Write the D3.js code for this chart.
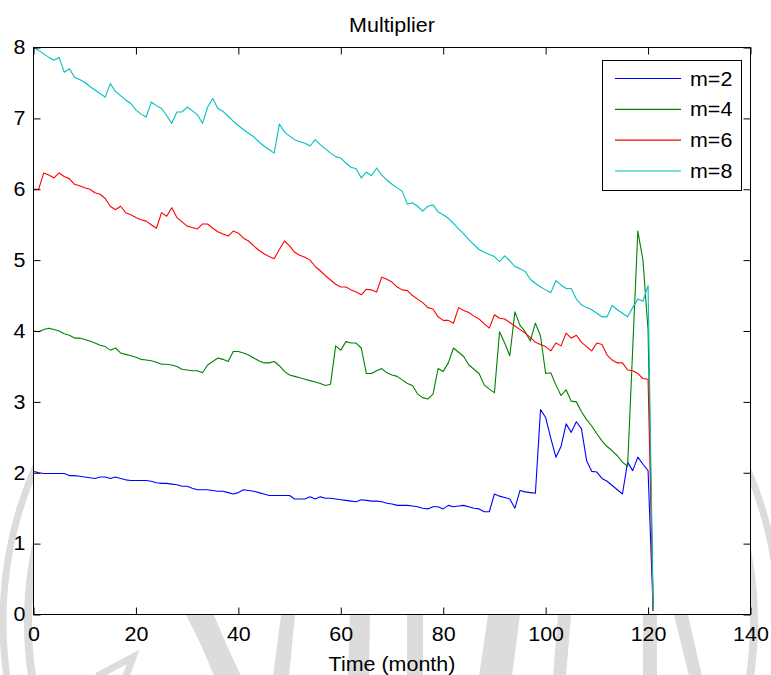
<!DOCTYPE html>
<html>
<head>
<meta charset="utf-8">
<script src="https://cdn.jsdelivr.net/npm/d3@7"></script>
<style>
  body { margin: 0; background: #fff; }
  text { font-family: "Liberation Sans", Arial, Helvetica, sans-serif; fill: #000; }
</style>
</head>
<body>
<svg id="chart" width="771" height="675"></svg>
<script>
// Monthly multiplier values, months 0..121
const months = d3.range(0, 122);

const m2 = [
  2.02,2.00,1.99,1.99,1.99,1.99,1.99,1.96,1.96,1.95,
  1.94,1.93,1.92,1.94,1.94,1.92,1.94,1.92,1.90,1.89,
  1.89,1.89,1.89,1.88,1.86,1.85,1.85,1.84,1.83,1.81,
  1.81,1.78,1.76,1.76,1.76,1.75,1.74,1.74,1.72,1.70,
  1.72,1.76,1.75,1.74,1.72,1.70,1.68,1.68,1.68,1.68,
  1.68,1.63,1.63,1.63,1.66,1.63,1.66,1.64,1.64,1.63,
  1.62,1.61,1.60,1.59,1.62,1.61,1.60,1.60,1.59,1.57,
  1.56,1.54,1.54,1.54,1.53,1.52,1.50,1.49,1.52,1.52,
  1.49,1.54,1.52,1.53,1.54,1.52,1.50,1.49,1.45,1.45,
  1.70,1.67,1.65,1.63,1.50,1.75,1.73,1.72,1.71,2.89,
  2.78,2.49,2.22,2.37,2.69,2.57,2.72,2.62,2.17,2.02,
  2.01,1.92,1.88,1.82,1.76,1.70,2.15,2.03,2.22,2.12,
  2.03,0.05
];

const m4 = [
  4.00,3.99,4.02,4.04,4.02,4.00,3.96,3.94,3.90,3.90,
  3.88,3.86,3.83,3.80,3.78,3.73,3.76,3.69,3.67,3.65,
  3.63,3.60,3.59,3.58,3.56,3.53,3.53,3.52,3.50,3.46,
  3.45,3.44,3.44,3.41,3.52,3.57,3.62,3.60,3.57,3.71,
  3.71,3.69,3.66,3.62,3.58,3.55,3.55,3.57,3.51,3.43,
  3.38,3.36,3.34,3.32,3.30,3.28,3.26,3.23,3.25,3.79,
  3.73,3.85,3.83,3.83,3.76,3.40,3.40,3.44,3.47,3.41,
  3.38,3.36,3.31,3.26,3.23,3.11,3.06,3.04,3.11,3.47,
  3.43,3.55,3.76,3.70,3.64,3.52,3.46,3.40,3.24,3.18,
  3.13,3.99,3.83,3.65,4.27,4.08,3.99,3.86,4.11,3.93,
  3.40,3.41,3.24,3.09,3.17,3.01,3.00,2.86,2.75,2.66,
  2.55,2.45,2.37,2.31,2.24,2.15,2.09,3.75,5.41,5.00,
  4.01,0.05
];

const m6 = [
  6.00,6.00,6.23,6.20,6.16,6.23,6.18,6.15,6.07,6.05,
  6.02,6.00,5.95,5.93,5.87,5.76,5.71,5.76,5.67,5.64,
  5.60,5.57,5.55,5.50,5.45,5.67,5.62,5.74,5.60,5.54,
  5.48,5.46,5.44,5.51,5.51,5.45,5.40,5.37,5.34,5.41,
  5.38,5.31,5.27,5.20,5.14,5.09,5.05,5.02,5.15,5.27,
  5.20,5.11,5.07,5.04,5.00,4.91,4.85,4.78,4.72,4.66,
  4.62,4.62,4.58,4.55,4.51,4.59,4.58,4.55,4.76,4.73,
  4.69,4.62,4.58,4.57,4.50,4.45,4.40,4.33,4.31,4.20,
  4.15,4.15,4.11,4.33,4.29,4.26,4.21,4.17,4.10,4.04,
  4.23,4.18,4.17,4.12,4.07,4.02,3.97,3.91,3.84,3.81,
  3.78,3.72,3.83,3.79,3.97,3.90,3.94,3.84,3.78,3.72,
  3.83,3.81,3.66,3.59,3.55,3.55,3.45,3.44,3.40,3.33,
  3.32,0.05
];

const m8 = [
  8.00,7.96,7.91,7.86,7.82,7.86,7.65,7.70,7.58,7.55,
  7.51,7.45,7.40,7.35,7.30,7.49,7.38,7.32,7.26,7.21,
  7.12,7.06,7.02,7.23,7.18,7.14,7.04,6.93,7.09,7.09,
  7.16,7.11,7.05,6.93,7.16,7.28,7.14,7.10,7.03,6.96,
  6.90,6.84,6.79,6.74,6.67,6.61,6.56,6.51,6.92,6.81,
  6.75,6.70,6.67,6.65,6.61,6.70,6.63,6.57,6.51,6.46,
  6.44,6.37,6.31,6.29,6.16,6.24,6.19,6.30,6.20,6.13,
  6.07,6.02,5.97,5.79,5.81,5.76,5.69,5.76,5.78,5.68,
  5.64,5.59,5.52,5.44,5.37,5.29,5.22,5.15,5.11,5.08,
  5.05,4.98,5.06,4.99,4.91,4.88,4.84,4.73,4.67,4.62,
  4.58,4.54,4.71,4.65,4.60,4.60,4.45,4.37,4.33,4.30,
  4.25,4.20,4.20,4.36,4.30,4.25,4.20,4.33,4.45,4.42,
  4.64,0.05
];

const seriesNames = ["m=2", "m=4", "m=6", "m=8"];
const seriesColors = ["#0000ff", "#008000", "#ff0000", "#00bfbf"];
const xTicks = [0, 20, 40, 60, 80, 100, 120, 140];
const yTicks = [0, 1, 2, 3, 4, 5, 6, 7, 8];
const titleText = "Multiplier";
const xLabelText = "Time (month)";

const series = [m2, m4, m6, m8].map((vals, i) => ({
  name: seriesNames[i],
  color: seriesColors[i],
  points: months.map((t, j) => ({ t, v: vals[j] }))
}));

const svg = d3.select("#chart");
const box = { left: 33.5, right: 750.5, top: 47.5, bottom: 614.5 };
const FS = 19.5;
const WIDEN = 1.1; // glyphs in this figure are set slightly wide

const x = d3.scaleLinear().domain([0, 140]).range([box.left, box.right]);
const y = d3.scaleLinear().domain([0, 8]).range([box.bottom, box.top]);

// faint background emblem (only visible outside the axes box)
const emblem = svg.append("g").attr("fill", "#dcdcdc").attr("stroke", "#dcdcdc");
emblem.append("circle").attr("cx", 391).attr("cy", 622).attr("r", 388)
  .attr("fill", "none").attr("stroke-width", 7);
emblem.append("circle").attr("cx", 391).attr("cy", 622).attr("r", 363)
  .attr("fill", "none").attr("stroke-width", 8);
emblem.append("polyline").attr("points", "97,676 133,657 126,676")
  .attr("fill", "none").attr("stroke-width", 7);
const emblemShapes = [
  "M186,615 L214,615 Q226,645 241,676 L214,676 Q202,645 186,615 Z",
  "M281,615 L295,615 L289,676 L273,676 Z",
  "M350,615 L370,615 L369,676 L348,676 Z",
  "M407,615 L423,615 L423,676 L407,676 Z",
  "M488,615 L520,615 L512,676 L479,676 Z",
  "M558,615 L571,615 L566,676 L553,676 Z",
  "M643,615 L657,615 L657,676 L643,676 Z",
  "M674,615 L688,615 L702,676 L689,676 Z"
];
emblem.selectAll("path.shape").data(emblemShapes).join("path")
  .attr("class", "shape").attr("d", d => d).attr("stroke", "none");

// axes background
svg.append("rect").attr("x", box.left).attr("y", box.top)
  .attr("width", box.right - box.left).attr("height", box.bottom - box.top).attr("fill", "#fff");

// series lines
const line = d3.line().x(d => x(d.t)).y(d => y(d.v));
svg.append("g").selectAll("path").data(series).join("path")
  .attr("d", d => line(d.points))
  .attr("fill", "none")
  .attr("stroke", d => d.color)
  .attr("stroke-width", 1.1)
  .attr("stroke-linejoin", "round");

// axes with inward ticks on all four sides
const tickLen = 7;
const gx = svg.append("g").attr("transform", `translate(0,${box.bottom})`)
  .call(d3.axisBottom(x).tickValues(xTicks).tickFormat(d3.format("d"))
    .tickSize(-tickLen).tickSizeOuter(0).tickPadding(13));
const gxTop = svg.append("g").attr("transform", `translate(0,${box.top})`)
  .call(d3.axisTop(x).tickValues(xTicks).tickFormat("")
    .tickSize(-tickLen).tickSizeOuter(0));
const gy = svg.append("g").attr("transform", `translate(${box.left},0)`)
  .call(d3.axisLeft(y).tickValues(yTicks).tickFormat(d3.format("d"))
    .tickSize(-tickLen).tickSizeOuter(0).tickPadding(8));
const gyRight = svg.append("g").attr("transform", `translate(${box.right},0)`)
  .call(d3.axisRight(y).tickValues(yTicks).tickFormat("")
    .tickSize(-tickLen).tickSizeOuter(0));

[gx, gxTop, gy, gyRight].forEach(g => {
  g.select(".domain").remove();
  g.selectAll(".tick line").attr("stroke", "#000").attr("stroke-width", 1);
  g.selectAll("text").attr("font-size", FS).attr("font-family", null).attr("fill", "#000");
});

// axes box
svg.append("rect").attr("x", box.left).attr("y", box.top)
  .attr("width", box.right - box.left).attr("height", box.bottom - box.top)
  .attr("fill", "none").attr("stroke", "#000").attr("stroke-width", 1);

// title and x label
svg.append("text").attr("x", (box.left + box.right) / 2).attr("y", 32)
  .attr("text-anchor", "middle").attr("font-size", FS).text(titleText);
svg.append("text").attr("x", (box.left + box.right) / 2).attr("y", 671)
  .attr("text-anchor", "middle").attr("font-size", FS).text(xLabelText);

// legend
const lg = svg.append("g");
const lgX = 602.5, lgY = 60.5, lgW = 139, lgH = 130;
lg.append("rect").attr("x", lgX).attr("y", lgY).attr("width", lgW).attr("height", lgH)
  .attr("fill", "#fff").attr("stroke", "#000").attr("stroke-width", 1);
const rowY = d3.scalePoint().domain(seriesNames).range([78.5, 171]);
const rows = lg.selectAll("g.row").data(series).join("g").attr("class", "row")
  .attr("transform", d => `translate(0,${rowY(d.name)})`);
rows.append("line").attr("x1", 615).attr("x2", 681).attr("y1", 0).attr("y2", 0)
  .attr("stroke", d => d.color).attr("stroke-width", 1.2);
rows.append("text").attr("x", 690).attr("y", 0).attr("dy", "0.36em")
  .attr("font-size", FS).text(d => d.name);

// widen every label a little
svg.selectAll("text").each(function () {
  const len = this.getComputedTextLength();
  if (len > 0) {
    d3.select(this).attr("textLength", len * WIDEN).attr("lengthAdjust", "spacingAndGlyphs");
  }
});
</script>
</body>
</html>
